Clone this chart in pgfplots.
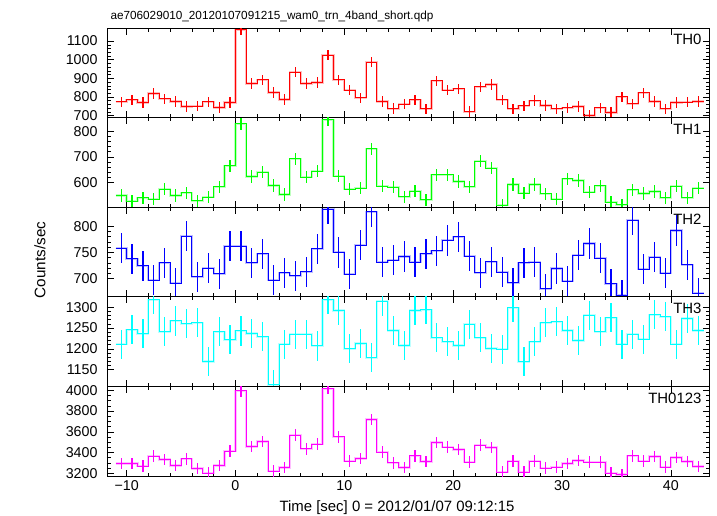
\documentclass[border=0pt]{standalone}
\usepackage{pgfplots}
\usepackage{pgfplotstable}
\pgfplotsset{compat=1.18}
\usepackage{fontspec}
\setmainfont{Liberation Sans}

\definecolor{qred}{rgb}{1,0,0}
\definecolor{qgreen}{rgb}{0,1,0}
\definecolor{qblue}{rgb}{0,0,1}
\definecolor{qcyan}{rgb}{0,1,1}
\definecolor{qmagenta}{rgb}{1,0,1}

% rates per 1 s bin, column l = left edge of bin (last row closes the final step)
\pgfplotstableread{
l    th0   th1  th2  th3   th4
-11  774   548  758  1211  3295
-10  785   526  738  1246  3295
-9   771   539  724  1236  3269
-8   819   533  697  1318  3365
-7   790   573  730  1241  3334
-6   776   548  691  1267  3276
-5   749   559  781  1260  3340
-4   751   527  703  1263  3247
-3   774   542  720  1170  3202
-2   744   582  709  1241  3276
-1   771   665  762  1222  3413
0    1161  829  762  1243  3994
1    873   623  730  1237  3458
2    892   640  747  1229  3507
3    824   587  697  1114  3221
4    787   552  711  1211  3257
5    933   692  705  1235  3567
6    873   620  713  1235  3436
7    878   644  757  1207  3481
8    1025  845  833  1318  4016
9    892   624  750  1292  3551
10   837   573  708  1200  3317
11   796   576  764  1213  3343
12   987   731  828  1179  3718
13   776   584  731  1314  3404
14   738   581  735  1244  3301
15   762   543  742  1208  3257
16   785   565  731  1292  3368
17   737   531  747  1294  3314
18   887   629  753  1227  3497
19   837   629  773  1217  3452
20   844   603  780  1208  3430
21   722   582  743  1259  3308
22   855   682  711  1227  3471
23   867   655  732  1201  3449
24   785   510  712  1199  3212
25   737   591  692  1299  3317
26   753   557  730  1169  3212
27   781   591  731  1217  3317
28   755   555  680  1263  3250
29   737   534  719  1265  3260
30   742   614  695  1244  3295
31   749   607  745  1220  3324
32   701   561  767  1281  3308
33   742   586  739  1241  3308
34   717   521  690  1275  3202
35   801   512  668  1211  3189
36   763   571  812  1235  3368
37   823   556  718  1223  3317
38   776   564  741  1282  3362
39   737   539  710  1277  3260
40   771   585  792  1211  3353
41   773   539  726  1273  3314
42   776   576  672  1244  3266
43   776   576  672  1244  3266
}\lc

\pgfplotsset{
  panel/.style={
    scale only axis, width=602bp, height=89.6bp,
    xmin=-11.8, xmax=43.5,
    xtick={-10,0,...,40}, minor x tick num=4,
    xtick pos=both, ytick pos=both, tick align=inside,
    major tick length=6.5bp, minor tick length=3.5bp,
    axis line style={line width=0.8bp},
    tick style={black, line width=0.6bp},
    /pgf/number format/assume math mode=true,
    /pgf/number format/1000 sep={},
    yticklabel style={font=\fontsize{14.3}{14.3}\selectfont, xshift=-6bp},
    xticklabel style={font=\fontsize{14.3}{14.3}\selectfont, yshift=-1bp},
    xticklabels={},
    anchor=north west,
  },
}

\newcommand{\panel}[4]{% column, colour, error, name
  % soft halo under the step line, as in the rendered qdp
  \addplot[const plot mark left, draw=#2, draw opacity=0.25, line width=2.2bp, forget plot]
    table[x=l, y=#1] {\lc};
  \addplot[const plot mark left, draw=#2, line width=1bp]
    table[x=l, y=#1] {\lc};
  \addplot[draw=none, mark=none, forget plot, restrict x to domain=-12:43,
    error bars/.cd, y dir=both, y fixed=#3, error mark=none,
    error bar style={draw=#2, line width=1.2bp}]
    table[x expr=\thisrow{l}+0.5, y=#1] {\lc};
  \node[anchor=north east, font=\fontsize{15}{15}\selectfont]
    at (rel axis cs:1,1) [xshift=-4bp, yshift=-3bp] {#4};
}

\begin{document}
\begin{tikzpicture}
\path[use as bounding box] (0,0) rectangle (717bp,-516bp);

\node[anchor=base west, font=\fontsize{11.8}{11.8}\selectfont]
  at (107bp,-19bp) {ae706029010\_20120107091215\_wam0\_trn\_4band\_short.qdp};

\begin{axis}[panel, at={(107bp,-28bp)},
  ymin=690, ymax=1170, ytick={700,800,...,1100}, minor y tick num=4]
\panel{th0}{qred}{28}{TH0}
\end{axis}

\begin{axis}[panel, at={(107bp,-117.6bp)},
  ymin=502, ymax=854, ytick={600,700,800}, minor y tick num=4]
\panel{th1}{qgreen}{24}{TH1}
\end{axis}

\begin{axis}[panel, at={(107bp,-207.2bp)},
  ymin=665, ymax=836.5, ytick={700,750,800}, minor y tick num=4]
\panel{th2}{qblue}{29}{TH2}
\end{axis}

\begin{axis}[panel, at={(107bp,-296.8bp)},
  ymin=1110, ymax=1325, ytick={1150,1200,1250,1300}, minor y tick num=4]
\panel{th3}{qcyan}{35}{TH3}
\end{axis}

\begin{axis}[panel, at={(107bp,-386.4bp)},
  ymin=3174, ymax=4038, ytick={3200,3400,...,4000}, minor y tick num=3,
  xticklabels={−10,0,10,20,30,40}]
\panel{th4}{qmagenta}{56}{TH0123}
\end{axis}

\node[rotate=90, font=\fontsize{15.3}{15.3}\selectfont] at (40bp,-260bp) {Counts/sec};
\node[anchor=base, font=\fontsize{15}{15}\selectfont]
  at (397bp,-511.5bp) {Time [sec] 0 = 2012/01/07 09:12:15};
\end{tikzpicture}
\end{document}
